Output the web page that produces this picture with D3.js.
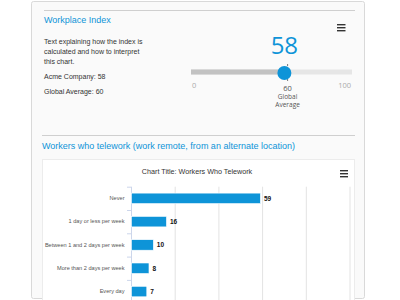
<!DOCTYPE html>
<html>
<head>
<meta charset="utf-8">
<script src="https://d3js.org/d3.v7.min.js"></script>
<style>
  html, body { margin: 0; padding: 0; background: #ffffff; }
  svg { display: block; }
</style>
</head>
<body>
<div id="chart"></div>
<script>
// data
var categories = ["Never", "1 day or less per week", "Between 1 and 2 days per week", "More than 2 days per week", "Every day"];
var values = [59, 16, 10, 8, 7];
var gridTicks = [0, 20, 40, 60, 80, 100];
var indexValue = 58;
var globalAverage = 60;
var sliderDomain = [0, 100];
var introLines = ["Text explaining how the index is", "calculated and how to interpret", "this chart."];
var statLines = ["Acme Company: 58", "Global Average: 60"];

var blue = '#0e94d8';
var headFont = '"Liberation Sans", Arial, sans-serif';
var chartFont = '"Liberation Sans", Arial, sans-serif';

var svg = d3.select('#chart').append('svg')
    .attr('width', 400)
    .attr('height', 300);

// outer panel
svg.append('rect')
    .attr('x', 31.5).attr('y', 1.5)
    .attr('width', 333).attr('height', 297)
    .attr('rx', 2)
    .attr('fill', '#fafafa')
    .attr('stroke', '#d9d9d9');

// ---- Workplace index section ----
svg.append('line')
    .attr('x1', 44).attr('x2', 355)
    .attr('y1', 10.5).attr('y2', 10.5)
    .attr('stroke', '#cfcfcf');

svg.append('text')
    .attr('x', 44).attr('y', 23)
    .style('font-family', headFont)
    .style('font-size', '9px')
    .attr('fill', blue)
    .text('Workplace Index');

function hamburger(x, y, w) {
    for (var i = 0; i < 3; i++) {
        svg.append('rect')
            .attr('x', x).attr('y', y + i * 3)
            .attr('width', w).attr('height', 1.4)
            .attr('fill', '#333');
    }
}
hamburger(337, 24, 8.5);

svg.selectAll('.intro')
    .data(introLines)
    .enter().append('text')
    .attr('class', 'intro')
    .attr('x', 44)
    .attr('y', function (d, i) { return 44 + i * 10; })
    .style('font-family', headFont)
    .style('font-size', '7px')
    .attr('fill', '#333')
    .text(function (d) { return d; });

svg.selectAll('.stat')
    .data(statLines)
    .enter().append('text')
    .attr('class', 'stat')
    .attr('x', 44)
    .attr('y', function (d, i) { return 79 + i * 15; })
    .style('font-family', headFont)
    .style('font-size', '7px')
    .attr('fill', '#333')
    .text(function (d) { return d; });

// slider
var sx = d3.scaleLinear().domain(sliderDomain).range([191, 352]);
var trackY = 72;

svg.append('text')
    .attr('x', sx(indexValue)).attr('y', 54)
    .attr('text-anchor', 'middle')
    .style('font-family', '"Open Sans", sans-serif')
    .style('font-size', '24px')
    .attr('fill', blue)
    .text(indexValue);

svg.append('rect')
    .attr('x', sx(sliderDomain[0])).attr('y', trackY - 2.5)
    .attr('width', sx(sliderDomain[1]) - sx(sliderDomain[0])).attr('height', 5)
    .attr('fill', '#e6e6e6');
svg.append('rect')
    .attr('x', sx(sliderDomain[0])).attr('y', trackY - 2.5)
    .attr('width', sx(indexValue) - sx(sliderDomain[0])).attr('height', 5)
    .attr('fill', '#c2c2c2');

// global average marker
svg.append('line')
    .attr('x1', sx(globalAverage)).attr('x2', sx(globalAverage))
    .attr('y1', trackY - 8).attr('y2', trackY + 9)
    .attr('stroke', '#555').attr('stroke-width', 0.8)
    .attr('stroke-dasharray', '2,13');

svg.append('circle')
    .attr('cx', sx(indexValue)).attr('cy', trackY + 1)
    .attr('r', 7)
    .attr('fill', blue);

svg.append('text')
    .attr('x', sx(sliderDomain[0]) + 1).attr('y', 88)
    .style('font-family', '"Open Sans", sans-serif')
    .style('font-size', '7.5px')
    .attr('fill', '#aaa')
    .text(sliderDomain[0]);
svg.append('text')
    .attr('x', sx(sliderDomain[1]) - 1).attr('y', 88)
    .attr('text-anchor', 'end')
    .style('font-family', '"Open Sans", sans-serif')
    .style('font-size', '7.5px')
    .attr('fill', '#aaa')
    .text(sliderDomain[1]);

var avgLines = [String(globalAverage), 'Global', 'Average'];
svg.selectAll('.avg')
    .data(avgLines)
    .enter().append('text')
    .attr('class', 'avg')
    .attr('x', sx(globalAverage))
    .attr('y', function (d, i) { return 91 + i * 8; })
    .attr('text-anchor', 'middle')
    .style('font-family', '"Open Sans", sans-serif')
    .style('font-size', function (d, i) { return i === 0 ? '7.5px' : '6.5px'; })
    .attr('fill', '#555')
    .text(function (d) { return d; });

// ---- Telework section ----
svg.append('line')
    .attr('x1', 42).attr('x2', 355)
    .attr('y1', 135.5).attr('y2', 135.5)
    .attr('stroke', '#cfcfcf');

svg.append('text')
    .attr('x', 42).attr('y', 148.5)
    .style('font-family', headFont)
    .style('font-size', '9px')
    .attr('fill', blue)
    .text('Workers who telework (work remote, from an alternate location)');

// chart box
svg.append('rect')
    .attr('x', 42.5).attr('y', 159.5)
    .attr('width', 312).attr('height', 150)
    .attr('fill', '#ffffff')
    .attr('stroke', '#ececec');

svg.append('text')
    .attr('x', 197).attr('y', 173.5)
    .attr('text-anchor', 'middle')
    .style('font-family', chartFont)
    .style('font-size', '7.2px')
    .attr('fill', '#333')
    .text('Chart Title: Workers Who Telework');

hamburger(340, 170, 8);

var margin = { left: 131, right: 349.5, top: 186.7 };
var x = d3.scaleLinear().domain([0, 100]).range([margin.left, margin.right]);
var y = d3.scaleBand().domain(categories)
    .range([margin.top, margin.top + 23.3 * categories.length])
    .paddingInner(0.55).paddingOuter(0.275);

// gridlines
svg.append('g')
    .selectAll('line')
    .data(gridTicks.slice(1))
    .enter().append('line')
    .attr('x1', function (d) { return x(d) + 0.5; })
    .attr('x2', function (d) { return x(d) + 0.5; })
    .attr('y1', margin.top).attr('y2', 305)
    .attr('stroke', '#e3e3e3');

// category axis
var yAxis = svg.append('g')
    .attr('transform', 'translate(' + (margin.left + 0.5) + ',0)')
    .call(d3.axisLeft(y).tickSize(0).tickPadding(7));
yAxis.select('.domain').attr('stroke', '#ccd6eb').attr('d', 'M0,' + margin.top + 'V305');
yAxis.selectAll('text')
    .style('font-family', chartFont)
    .style('font-size', '5.6px')
    .attr('fill', '#555');

// tick marks between categories
var step = y.step();
svg.append('g')
    .selectAll('line')
    .data(d3.range(categories.length))
    .enter().append('line')
    .attr('x1', margin.left - 4).attr('x2', margin.left)
    .attr('y1', function (d) { return margin.top + d * step + 0.5; })
    .attr('y2', function (d) { return margin.top + d * step + 0.5; })
    .attr('stroke', '#ccd6eb');

// bars
svg.append('g')
    .selectAll('rect')
    .data(values)
    .enter().append('rect')
    .attr('x', x(0) + 0.5)
    .attr('y', function (d, i) { return y(categories[i]); })
    .attr('width', function (d) { return x(d) - x(0); })
    .attr('height', y.bandwidth())
    .attr('fill', blue)
    .attr('stroke', '#ffffff')
    .attr('stroke-width', 0.6);

// value labels
svg.append('g')
    .selectAll('text')
    .data(values)
    .enter().append('text')
    .attr('x', function (d) { return x(d) + 4; })
    .attr('y', function (d, i) { return y(categories[i]) + y.bandwidth() / 2; })
    .attr('dy', '0.35em')
    .style('font-family', chartFont)
    .style('font-size', '6.5px')
    .style('font-weight', 'bold')
    .attr('fill', '#111')
    .text(function (d) { return d; });
</script>
</body>
</html>
